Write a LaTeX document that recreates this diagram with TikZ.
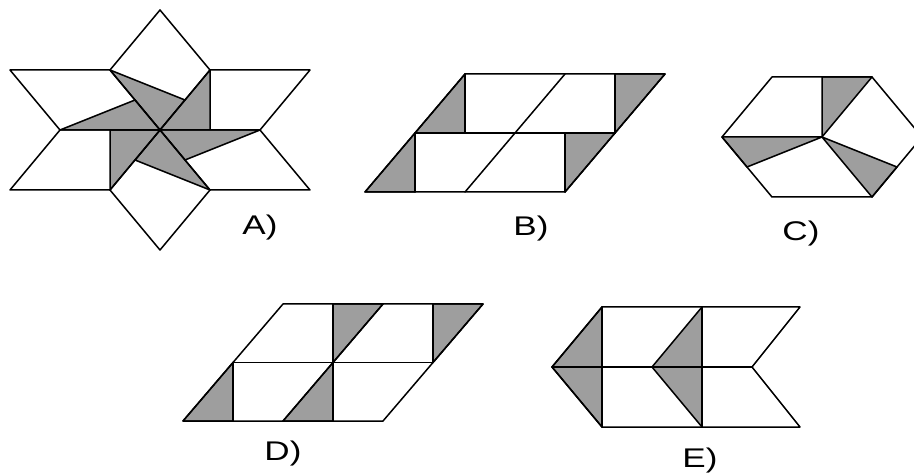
\documentclass[tikz,border=0pt]{standalone}
\usepackage{fontspec}
\usetikzlibrary{calc}
\newfontfamily\labfont[FakeStretch=1.3]{Liberation Sans}
\definecolor{gfill}{RGB}{158,158,158}
\tikzset{
  edge/.style={line width=1.5pt, line join=round, line cap=round},
  tri/.style={fill=gfill, draw=black, line width=1.5pt, line join=round},
  lab/.style={font=\labfont\fontsize{27}{32}\selectfont, inner sep=0pt}
}
\begin{document}
\begin{tikzpicture}[x=1pt,y=-1pt]
\useasboundingbox (0,0) rectangle (914,473);
\begin{scope}
\clip (0,0) rectangle (914,473);
% ---------- Figure A ----------
\coordinate (AC) at (160,130);
\coordinate (A1) at (160,10);
\coordinate (A2) at (110,70);
\coordinate (A3) at (210,70);
\coordinate (A4) at (310,70);
\coordinate (A5) at (260,130);
\coordinate (A6) at (310,190);
\coordinate (A7) at (210,190);
\coordinate (A8) at (160,250);
\coordinate (A9) at (110,190);
\coordinate (A10) at (10,190);
\coordinate (A11) at (60,130);
\coordinate (A12) at (10,70);
\draw[tri] (A2) -- ($(AC)!0.5!(A3)$) -- (AC) -- cycle;
\draw[tri] (AC) -- (A3) -- (210,130) -- cycle;
\draw[tri] (AC) -- (A5) -- ($(AC)!0.5!(A7)$) -- cycle;
\draw[tri] (A7) -- ($(AC)!0.5!(A9)$) -- (AC) -- cycle;
\draw[tri] (AC) -- (A9) -- (110,130) -- cycle;
\draw[tri] (AC) -- (A11) -- ($(AC)!0.5!(A2)$) -- cycle;
\draw[edge] (A1) -- (A3) -- (A4) -- (A5) -- (A6) -- (A7) -- (A8) -- (A9) -- (A10) -- (A11) -- (A12) -- (A2) -- cycle;
\draw[edge] (AC) -- (A2) (AC) -- (A3) (AC) -- (A5) (AC) -- (A7) (AC) -- (A9) (AC) -- (A11);
\node[lab] (labA) at (260,228) {A)};
% ---------- Figure B ----------
\draw[tri] (465,74) -- (415,133) -- (465,133) -- cycle;
\draw[tri] (615,74) -- (665,74) -- (615,133) -- cycle;
\draw[tri] (365,192) -- (415,133) -- (415,192) -- cycle;
\draw[tri] (565,133) -- (615,133) -- (565,192) -- cycle;
\draw[edge] (365,192) -- (565,192) -- (665,74) -- (465,74) -- cycle;
\draw[edge] (415,133) -- (615,133);
\draw[edge] (465,192) -- (565,74);
\draw[edge] (465,74) -- (465,133) (615,74) -- (615,133) (415,133) -- (415,192) (565,133) -- (565,192);
\node[lab] (labB) at (531,229) {B)};
% ---------- Figure C ----------
\coordinate (CC) at (822,137);
\coordinate (CL) at (722,137);
\coordinate (CTL) at (772,77);
\coordinate (CTM) at (822,77);
\coordinate (CTR) at (872,77);
\coordinate (CR) at (922,137);
\coordinate (CBR) at (872,197);
\coordinate (CBL) at (772,197);
\draw[tri] (CC) -- (CTM) -- (CTR) -- cycle;
\draw[tri] (CC) -- ($(CR)!0.5!(CBR)$) -- (CBR) -- cycle;
\draw[tri] (CC) -- (CL) -- ($(CL)!0.5!(CBL)$) -- cycle;
\draw[edge] (CL) -- (CTL) -- (CTR) -- (CR) -- (CBR) -- (CBL) -- cycle;
\node[lab] (labC) at (801,234) {C)};
% ---------- Figure D ----------
\draw[tri] (333,304) -- (383,304) -- (333,362.5) -- cycle;
\draw[tri] (433,304) -- (483,304) -- (433,362.5) -- cycle;
\draw[tri] (183,421) -- (233,362.5) -- (233,421) -- cycle;
\draw[tri] (283,421) -- (333,362.5) -- (333,421) -- cycle;
\draw[edge] (183,421) -- (383,421) -- (483,304) -- (283,304) -- cycle;
\draw[edge] (233,362.5) -- (433,362.5);
\draw[edge] (333,304) -- (333,421);
\draw[edge] (383,304) -- (283,421);
\draw[edge] (433,304) -- (433,362.5) (233,362.5) -- (233,421);
\node[lab] (labD) at (283,454) {D)};
% ---------- Figure E ----------
\draw[tri] (552,367) -- (602,307) -- (602,427) -- cycle;
\draw[tri] (652,367) -- (702,307) -- (702,427) -- cycle;
\draw[edge] (552,367) -- (602,307) -- (800,307) -- (752,367) -- (800,427) -- (602,427) -- cycle;
\draw[edge] (552,367) -- (752,367);
\draw[edge] (602,307) -- (602,427) (702,307) -- (702,427);
\node[lab] (labE) at (700,461) {E)};
\end{scope}
\end{tikzpicture}
\end{document}
